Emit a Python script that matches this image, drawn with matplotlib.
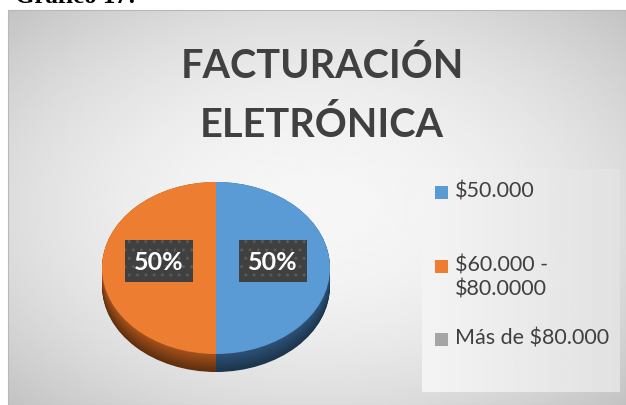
import numpy as np
import matplotlib.pyplot as plt
from matplotlib.colors import to_rgb
from matplotlib.patches import Rectangle

# datos del grafico
categorias = ['$50.000', '$60.000 -\n$80.0000', 'Más de $80.000']
valores = [50, 50, 0]
colores = ['#5B9BD5', '#ED7D31', '#A5A5A5']
lado_claro = ['#2d5277', '#a5521c', '#6f6f6f']
lado_oscuro = ['#1d344c', '#5f2e0e', '#4a4a4a']
titulo = ['FACTURACIÓN', 'ELETRÓNICA']

W, H = 626, 406
fig = plt.figure(figsize=(W / 100, H / 100), dpi=100)
fig.patch.set_facecolor('white')

# eje de fondo en pixeles
bg = fig.add_axes([0, 0, 1, 1])
bg.set_xlim(0, W)
bg.set_ylim(H, 0)
bg.axis('off')

# fondo degradado radial del grafico
x0, y0, x1, y1 = 8, 11, W, H
yy, xx = np.mgrid[0:1:200j, 0:1:300j]
r2 = ((xx - 0.5) / 0.5) ** 2 + ((yy - 0.5) / 0.5) ** 2
grad = 0.965 - 0.1 * r2
bg.imshow(grad, cmap='gray', vmin=0, vmax=1, extent=(x0, x1, y1, y0),
          aspect='auto', interpolation='bilinear', zorder=0)
bg.add_patch(Rectangle((x0, y0), x1 - x0, y1 - y0, fill=False,
                       ec='#b8b8b8', lw=0.8, zorder=1))

# caja de la leyenda
lx0, ly0, lx1, ly1 = 422, 170, 620, 393
lg = np.tile(np.linspace(0.955, 0.885, 100), (60, 1))
bg.imshow(lg, cmap='gray', vmin=0, vmax=1, extent=(lx0, lx1, ly1, ly0),
          aspect='auto', interpolation='bilinear', zorder=1)

# texto cortado arriba
bg.text(15, 3, 'Gráfico 17:', family='Liberation Serif', weight='bold',
        fontsize=18, color='black', va='baseline', ha='left', zorder=3)

# titulo (dos lineas)
for linea, yb in zip(titulo, [78, 137]):
    bg.text(322, yb, linea, family='Lato', weight='bold', fontsize=28.5,
            color='#404040', ha='center', va='baseline', zorder=3)

# leyenda
ys = [193, 267, 340]
for cat, col, y in zip(categorias, colores, ys):
    bg.add_patch(Rectangle((435, y - 6.5), 13, 13, fc=col, ec='none', zorder=3))
    bg.text(455, y - 11.5, cat, family='Lato', fontsize=15.5, color='#404040',
            ha='left', va='top', linespacing=1.25, parse_math=False, zorder=3)

# pastel 3D
prof = 18 / 86.0
ax = fig.add_axes([102 / W, 33 / H, 228 / W, 190 / H])
ax.patch.set_alpha(0)
capas = np.linspace(prof, 0, 24)
for i, d in enumerate(capas):
    t = i / (len(capas) - 1)
    cols = [tuple((1 - t) * np.array(to_rgb(a)) + t * np.array(to_rgb(b)))
            for a, b in zip(lado_oscuro, lado_claro)]
    ax.pie(valores, colors=cols, startangle=90, counterclock=False,
           center=(0, -d), wedgeprops=dict(linewidth=0))

wedges, textos, autot = ax.pie(
    valores, colors=colores, startangle=90, counterclock=False,
    autopct=lambda p: '' if p == 0 else '%d%%' % round(p),
    pctdistance=0.5, wedgeprops=dict(linewidth=0),
    textprops=dict(family='Lato', weight='bold', fontsize=18, color='white'))
for t in autot:
    px, py = t.get_position()
    t.set_position((px, py + 0.08))
    if t.get_text():
        t.set_bbox(dict(boxstyle='square,pad=0.38', fc='#404040',
                        ec='#5a5a5a', lw=0, hatch='..'))
ax.set_aspect('auto')
ax.set_xlim(-1, 1)
ax.set_ylim(-1 - prof, 1)
ax.axis('off')

fig.savefig('out.png', dpi=100)
